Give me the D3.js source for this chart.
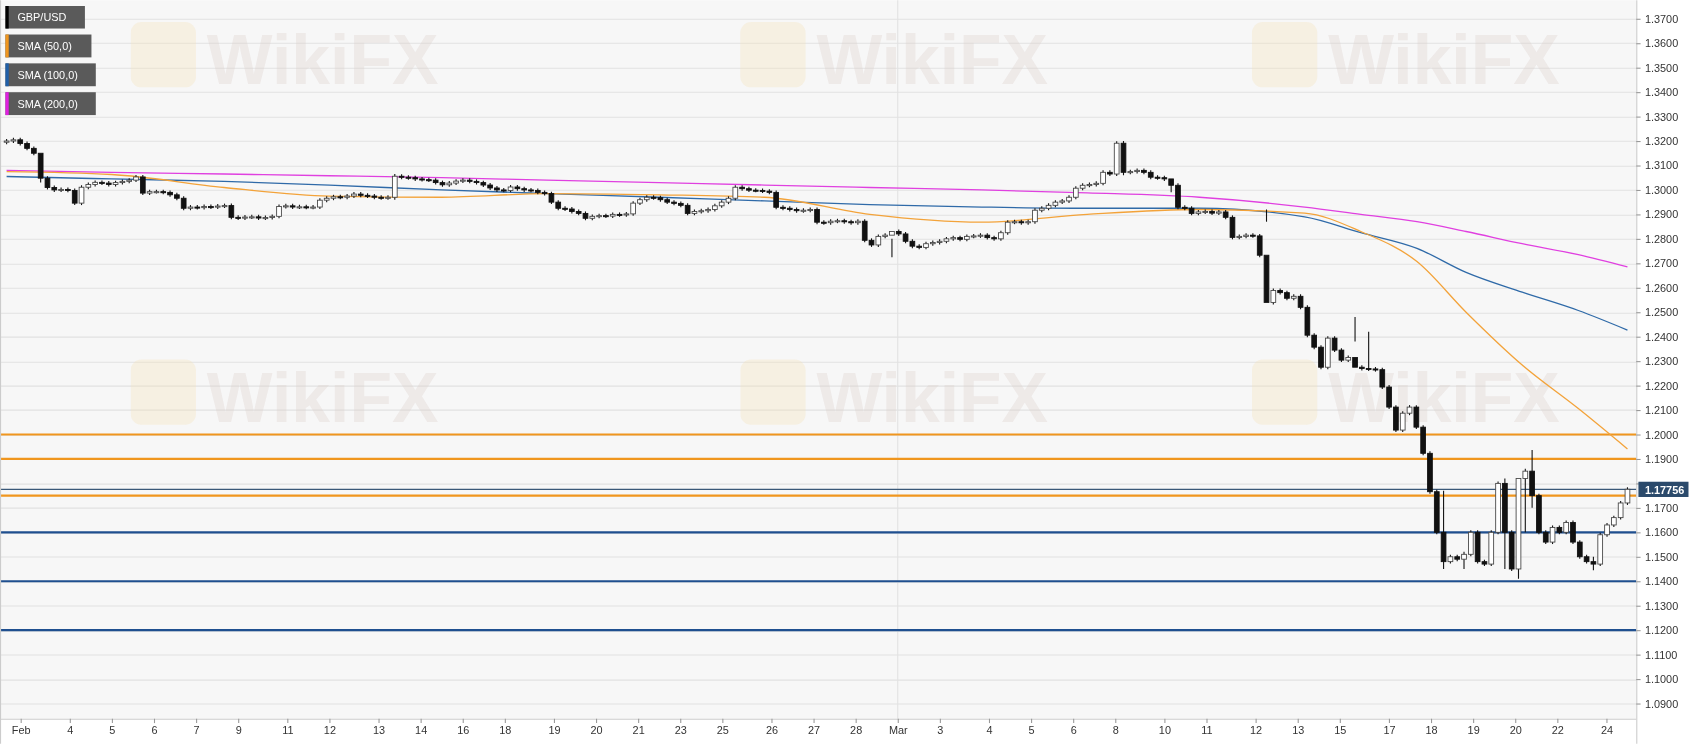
<!DOCTYPE html>
<html>
<head>
<meta charset="utf-8">
<script src="https://cdn.jsdelivr.net/npm/d3@7"></script>
<style>
  html, body { margin: 0; padding: 0; background: #fff; overflow: hidden; }
  text { font-family: Arial, "Liberation Sans", sans-serif; }
</style>
</head>
<body>
<div id="chart"></div>
<script>
// 4h closes, GBP/USD, Feb 3 - Mar 24 (open = previous close)
var closes = [
  1.3200,1.3205,1.3190,1.3170,1.3150,1.3048,1.3010,1.3000,1.3002,1.2998,1.2946,1.3011,1.3022,1.3031,1.3028,1.3022,1.3030,1.3035,1.3040,1.3053,
  1.2987,1.2993,1.2993,1.2990,1.2980,1.2966,1.2925,1.2930,1.2928,1.2932,1.2930,1.2934,1.2936,1.2888,1.2885,1.2889,1.2890,1.2885,1.2887,1.2892,
  1.2932,1.2935,1.2930,1.2931,1.2929,1.2930,1.2958,1.2966,1.2972,1.2970,1.2975,1.2983,1.2978,1.2975,1.2970,1.2968,1.2970,1.3056,
  1.3052,1.3050,1.3045,1.3042,1.3040,1.3030,1.3021,1.3028,1.3036,1.3040,1.3035,1.3030,1.3020,1.3008,1.3000,1.2998,1.3012,
  1.3005,1.3000,1.2998,1.2990,1.2985,1.2950,1.2925,1.2922,1.2912,1.2904,1.2884,1.2892,1.2895,1.2893,1.2900,1.2898,1.2902,1.2946,1.2960,1.2970,
  1.2968,1.2960,1.2950,1.2945,1.2937,1.2904,1.2912,1.2915,1.2920,1.2935,1.2950,1.2966,1.3011,1.3005,1.2999,1.2998,1.2995,1.2990,
  1.2929,1.2925,1.2920,1.2915,1.2917,1.2920,1.2868,1.2866,1.2872,1.2874,1.2870,1.2866,1.2872,
  1.2794,1.2775,1.2810,1.2815,1.2830,1.2820,1.2790,1.2770,1.2765,1.2780,1.2785,1.2790,1.2800,1.2805,1.2798,1.2810,1.2812,1.2815,1.2805,1.2800,
  1.2825,1.2868,1.2870,1.2866,1.2870,
  1.2917,1.2925,1.2937,1.2950,1.2955,1.2970,1.3007,1.3019,1.3022,1.3027,1.3072,1.3065,1.3191,1.3072,1.3075,1.3080,1.3072,1.3052,
  1.3050,1.3045,1.3019,1.2929,1.2925,1.2904,1.2910,1.2912,1.2905,1.2910,1.2888,1.2806,1.2810,1.2815,1.2812,1.2733,1.2540,1.2589,
  1.2580,1.2557,1.2565,1.2520,1.2406,1.2357,1.2275,1.2394,1.2345,1.2304,1.2315,1.2275,1.2270,1.2268,1.2265,1.2194,1.2112,1.2018,
  1.2087,1.2112,1.2030,1.1923,1.1766,
  1.1600,1.1480,1.1500,1.1490,1.1510,1.1600,1.1480,1.1470,1.1600,1.1800,1.1600,1.1450,1.1820,1.1850,1.1750,1.1600,1.1560,1.1620,
  1.1600,1.1640,1.1560,1.1500,1.1480,1.1470,1.1590,1.1630,1.1660,1.1720,1.1776
];
var firstOpen = 1.3195;
// notable wicks: [candle index, high, low]
var wicks = [
  [5,1.3075,1.3030],[57,1.3065,1.2960],[130,1.2800,1.2725],[164,1.3200,1.3060],[171,1.3035,1.2990],[185,1.2920,1.2870],
  [198,1.2480,1.2380],[200,1.2420,1.2260],[211,1.1770,1.1450],[214,1.1520,1.1450],[220,1.1820,1.1450],[222,1.1610,1.1410],
  [223,1.1860,1.1600],[224,1.1937,1.1700],[233,1.1500,1.1445],[239,1.1790,1.1700]
];
var yTicks = d3.range(1.09, 1.3701, 0.01);
// tick and SMA positions, in a 0..231 scale across the candle range
var tickPos = [2,9,15,21,27,33,40,46,53,59,65,71,78,84,90,96,102,109,115,121,127,133,140,146,152,158,165,171,178,184,190,197,203,209,215,221,228];
var tickLbl = ['Feb','4','5','6','7','9','11','12','13','14','16','18','19','20','21','23','25','26','27','28','Mar','3','4','5','6','8','10','11','12','13','15','17','18','19','20','22','24'];
var smaPos = [0,15,31,46,62,77,93,108,123,139,154,170,185,193,201,208,216,224,231];
var sma50  = [1.3075,1.3063,1.3010,1.2975,1.2970,1.2985,1.2980,1.2970,1.2900,1.2868,1.2900,1.2920,1.2905,1.2830,1.2707,1.2500,1.2284,1.2106,1.1941];
var sma100 = [1.3055,1.3045,1.3035,1.3020,1.3000,1.2985,1.2970,1.2955,1.2940,1.2930,1.2925,1.2925,1.2890,1.2825,1.2761,1.2663,1.2582,1.2507,1.2427];
var sma200 = [1.3080,1.3072,1.3065,1.3058,1.3050,1.3040,1.3030,1.3020,1.3010,1.3000,1.2988,1.2970,1.2930,1.2900,1.2870,1.2830,1.2780,1.2735,1.2685];
var orangeLevels = [1.2000, 1.1900, 1.1750];
var blueLevels = [1.1600, 1.1400, 1.1200];
var lastPrice = 1.17756;

var W = 1568, H = 683, plotW = 1503, plotH = 660;

var svg = d3.select('#chart').append('svg')
  .attr('width', 1707).attr('height', 744)
  .attr('viewBox', '0 0 ' + W + ' ' + H);

svg.append('rect').attr('width', W).attr('height', H).attr('fill', '#fff');
svg.append('rect').attr('width', plotW).attr('height', plotH).attr('fill', '#f7f7f7');

var x = d3.scaleBand().domain(d3.range(closes.length)).range([2, plotW - 4]).padding(0.3);
var y = d3.scaleLinear().domain([1.09, 1.37]).range([646, 17]);
function cx(i) { return x(i) + x.bandwidth() / 2; }
var pos = d3.scaleLinear().domain([0, 231]).range([cx(0), cx(closes.length - 1)]);

// grid
svg.append('g').selectAll('line').data(yTicks).join('line')
  .attr('x1', 0).attr('x2', plotW)
  .attr('y1', function(d) { return Math.round(y(d)) + 0.5; })
  .attr('y2', function(d) { return Math.round(y(d)) + 0.5; })
  .attr('stroke', '#e2e2e2');
svg.append('line').attr('x1', pos(127)).attr('x2', pos(127)).attr('y1', 0).attr('y2', plotH)
  .attr('stroke', '#e2e2e2');

// watermark
var wm = svg.append('g').attr('opacity', 0.5);
[[150, 65], [710, 65], [1180, 65], [150, 375], [710, 375], [1180, 375]].forEach(function(p) {
  wm.append('rect').attr('x', p[0] - 30).attr('y', p[1] - 45).attr('width', 60).attr('height', 60).attr('rx', 10)
    .attr('fill', '#f5dfb0').attr('opacity', 0.6);
  wm.append('text').attr('x', p[0] + 40).attr('y', p[1] + 12).attr('font-size', 64).attr('font-weight', 'bold')
    .attr('fill', '#ddd0cc').attr('opacity', 0.7).text('WikiFX');
});

// horizontal levels
svg.append('g').selectAll('line').data(orangeLevels).join('line')
  .attr('x1', 0).attr('x2', plotW).attr('y1', y).attr('y2', y)
  .attr('stroke', '#f0961e').attr('stroke-width', 2);
svg.append('g').selectAll('line').data(blueLevels).join('line')
  .attr('x1', 0).attr('x2', plotW).attr('y1', y).attr('y2', y)
  .attr('stroke', '#1f4f8f').attr('stroke-width', 2);
svg.append('line').attr('x1', 0).attr('x2', plotW).attr('y1', y(lastPrice)).attr('y2', y(lastPrice))
  .attr('stroke', '#3a5878').attr('stroke-width', 1);

// SMA lines
var smaLine = d3.line().x(function(d) { return pos(d[0]); }).y(function(d) { return y(d[1]); }).curve(d3.curveMonotoneX);
[[sma200, '#e040e0'], [sma100, '#2f6aa8'], [sma50, '#f3a33a']].forEach(function(s) {
  svg.append('path').datum(smaPos.map(function(k, i) { return [k, s[0][i]]; }))
    .attr('d', smaLine).attr('fill', 'none').attr('stroke', s[1]).attr('stroke-width', 1.2);
});

// candles
var wickMap = {};
wicks.forEach(function(w) { wickMap[w[0]] = w; });
var candles = closes.map(function(c, i) {
  var o = i === 0 ? firstOpen : closes[i - 1];
  var w = wickMap[i];
  var hi = w ? w[1] : Math.max(o, c) + 0.0008;
  var lo = w ? w[2] : Math.min(o, c) - 0.0008;
  return { i: i, o: o, c: c, h: hi, l: lo };
});
var cg = svg.append('g').selectAll('g').data(candles).join('g');
cg.append('line')
  .attr('x1', function(d) { return cx(d.i); }).attr('x2', function(d) { return cx(d.i); })
  .attr('y1', function(d) { return y(d.h); }).attr('y2', function(d) { return y(d.l); })
  .attr('stroke', '#111').attr('stroke-width', 1);
cg.append('rect')
  .attr('x', function(d) { return x(d.i); })
  .attr('width', x.bandwidth())
  .attr('y', function(d) { return y(Math.max(d.o, d.c)); })
  .attr('height', function(d) { return Math.max(1, Math.abs(y(d.o) - y(d.c))); })
  .attr('fill', function(d) { return d.c >= d.o ? '#fff' : '#111'; })
  .attr('stroke', function(d) { return d.c >= d.o ? '#444' : '#111'; })
  .attr('stroke-width', 0.8);

// axes
svg.append('line').attr('x1', plotW + 0.5).attr('x2', plotW + 0.5).attr('y1', 0).attr('y2', H).attr('stroke', '#ccc');
svg.append('line').attr('x1', 0).attr('x2', plotW).attr('y1', plotH + 0.5).attr('y2', plotH + 0.5).attr('stroke', '#ccc');
svg.append('line').attr('x1', 0.5).attr('x2', 0.5).attr('y1', 0).attr('y2', H).attr('stroke', '#ccc');
var yAxis = svg.append('g').attr('transform', 'translate(' + plotW + ',0)')
  .call(d3.axisRight(y).tickValues(yTicks).tickFormat(d3.format('.4f')).tickSize(4));
yAxis.select('.domain').remove();
yAxis.selectAll('line').attr('stroke', '#999');
yAxis.selectAll('text').attr('font-size', 10).attr('fill', '#333').attr('x', 8);
// the last-price tag covers this label
yAxis.selectAll('.tick').filter(function(d) { return Math.abs(y(d) - y(lastPrice)) < 10; }).select('text').remove();

var xAxis = svg.append('g').attr('transform', 'translate(0,' + plotH + ')')
  .call(d3.axisBottom(pos).tickValues(tickPos).tickFormat(function(d, i) { return tickLbl[i]; }).tickSize(4));
xAxis.select('.domain').remove();
xAxis.selectAll('line').attr('stroke', '#999');
xAxis.selectAll('text').attr('font-size', 10).attr('fill', '#333');

// last price tag
svg.append('rect').attr('x', plotW + 2).attr('y', y(lastPrice) - 7).attr('width', 46).attr('height', 14)
  .attr('fill', '#2b4a6b');
svg.append('text').attr('x', plotW + 8).attr('y', y(lastPrice) + 4).attr('font-size', 10).attr('font-weight', 'bold')
  .attr('fill', '#fff').text('1.17756');

// legend
var legend = [['GBP/USD', '#000', 73], ['SMA (50,0)', '#f0961e', 79], ['SMA (100,0)', '#1f5fa8', 83], ['SMA (200,0)', '#e020e0', 83]];
legend.forEach(function(l, i) {
  var ly = 5 + i * 26.5;
  svg.append('rect').attr('x', 5).attr('y', ly).attr('width', l[2]).attr('height', 21).attr('fill', '#5a5a5a');
  svg.append('rect').attr('x', 5).attr('y', ly).attr('width', 3).attr('height', 21).attr('fill', l[1]);
  svg.append('text').attr('x', 16).attr('y', ly + 14.5).attr('font-size', 10).attr('fill', '#fff').text(l[0]);
});
</script>
</body>
</html>
